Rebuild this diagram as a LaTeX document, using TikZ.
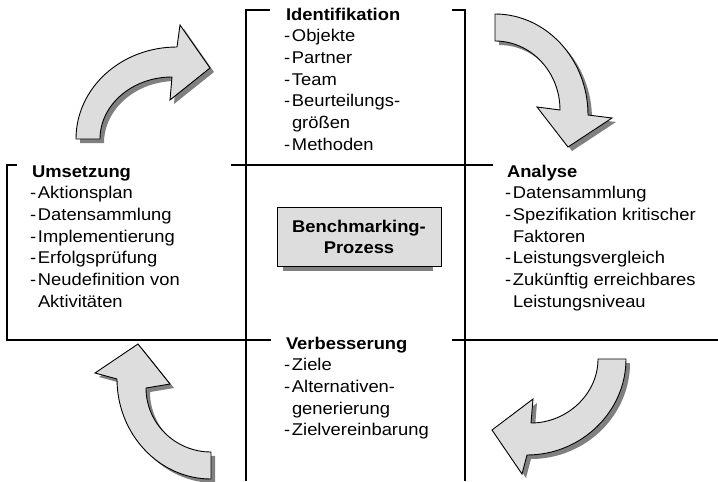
\documentclass[tikz,border=0pt]{standalone}
\usepackage{fontspec}
\setmainfont{Liberation Sans}[FakeStretch=1.08]
\definecolor{boxgray}{HTML}{DDDDDD}
\definecolor{shadowgray}{HTML}{808080}
\newcommand\blk[1]{\parbox[t]{220pt}{\fontsize{17}{21.7}\selectfont\raggedright #1}}
\newcommand\ti[1]{\textbf{#1}}
\newcommand\itm[1]{\hspace*{-2pt}\makebox[8pt][l]{-}#1}
\newcommand\cnt[1]{\hspace*{6pt}#1}
\newcommand\curvedarrow[1]{%
  \fill[shadowgray, shift={(4,4)}] #1;
  \filldraw[arrowshape] #1;}
\tikzset{
  frame/.style={line width=1.1pt, black},
  txt/.style={inner sep=0pt, outer sep=0pt, anchor=base west},
  arrowshape/.style={fill=boxgray, draw=black, line width=0.9pt, line join=miter},
  centerbox/.style={draw=black, fill=boxgray, line width=1pt, inner sep=0pt,
    minimum width=164pt, minimum height=59pt},
}
\begin{document}
\begin{tikzpicture}[x=1pt,y=-1pt]
\useasboundingbox (0,0) rectangle (718,482);
% frame lines
\draw[frame] (270,10) -- (246,10) -- (246,481);
\draw[frame] (452,10) -- (465,10) -- (465,481);
\draw[frame] (231,165) -- (493,165);
\draw[frame] (17,165) -- (7,165) -- (7,340) -- (271,340);
\draw[frame] (452,340) -- (718,340);
% curved arrows
\curvedarrow{(76,139) .. controls (76,88) and (121,47) .. (177,47) -- (180,25) -- (210,68) -- (170,100) -- (172,77) .. controls (132,77) and (100,105) .. (100,139) -- cycle}
\curvedarrow{(495,14) .. controls (546,14) and (588,59) .. (588,115) -- (612,118) -- (568,147) -- (537,107) -- (560,110) .. controls (560,72) and (531,41) .. (495,41) -- cycle}
\curvedarrow{(626,359) .. controls (626,412) and (581,455) .. (527,455) -- (522,474) -- (492,430) -- (533,399) -- (531,423) .. controls (567,423) and (598,394) .. (598,359) -- cycle}
\curvedarrow{(211,479) .. controls (159,479) and (117,434) .. (117,379) -- (95,373) -- (138,344) -- (170,384) -- (146,388) .. controls (146,423) and (175,452) .. (211,452) -- cycle}
% center box
\fill[shadowgray] (283,212) rectangle (433,271);
\node[centerbox] (bp) at (359,236.5) {};
\node[inner sep=0pt, anchor=base] (bpt) at (359,232)
  {\parbox[t]{160pt}{\centering\fontsize{17}{21.7}\selectfont\bfseries Benchmarking-\\Prozess}};
% text blocks
\node[txt] (ident) at (286,20) {\blk{\ti{Identifikation}\\
  \itm{Objekte}\\ \itm{Partner}\\ \itm{Team}\\ \itm{Beurteilungs-}\\ \cnt{größen}\\ \itm{Methoden}}};
\node[txt] (ums) at (32,177) {\blk{\ti{Umsetzung}\\
  \itm{Aktionsplan}\\ \itm{Datensammlung}\\ \itm{Implementierung}\\ \itm{Erfolgsprüfung}\\ \itm{Neudefinition von}\\ \cnt{Aktivitäten}}};
\node[txt] (ana) at (507,177) {\blk{\ti{Analyse}\\
  \itm{Datensammlung}\\ \itm{Spezifikation kritischer}\\ \cnt{Faktoren}\\ \itm{Leistungsvergleich}\\ \itm{Zukünftig erreichbares}\\ \cnt{Leistungsniveau}}};
\node[txt] (verb) at (286,349) {\blk{\ti{Verbesserung}\\
  \itm{Ziele}\\ \itm{Alternativen-}\\ \cnt{generierung}\\ \itm{Zielvereinbarung}}};
\end{tikzpicture}
\end{document}
